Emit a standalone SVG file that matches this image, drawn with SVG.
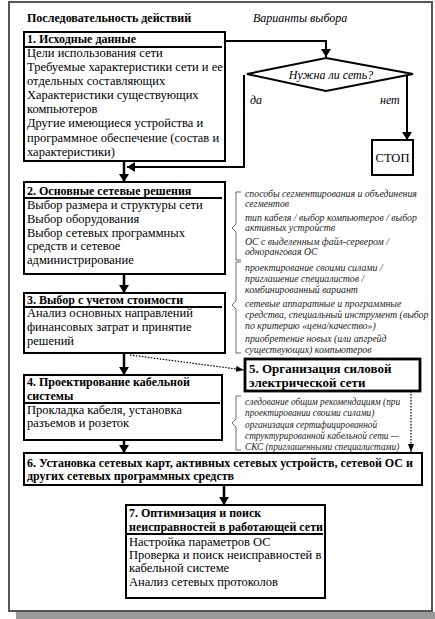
<svg xmlns="http://www.w3.org/2000/svg" width="435" height="619" viewBox="0 0 435 619" font-family="'Liberation Serif', 'DejaVu Serif', serif">
<defs>
<marker id="ah" markerWidth="8" markerHeight="10" refX="8" refY="5" orient="auto" markerUnits="userSpaceOnUse"><path d="M0,0 L8,5 L0,10 Z" fill="#000"/></marker>
<marker id="ahs" markerWidth="8" markerHeight="6" refX="8" refY="3" orient="auto" markerUnits="userSpaceOnUse"><path d="M0,0 L8,3 L0,6 Z" fill="#000"/></marker>
</defs>
<style>
text{font-family:'Liberation Serif','DejaVu Serif',serif;fill:#000}
.t{font-size:12.5px}
.h{font-size:12px;font-weight:bold}
.h5{font-size:13px;font-weight:bold}
.i{font-size:12px;font-style:italic}
.a{font-size:9.8px;font-style:italic;fill:#222}
.a4{font-size:9.3px}
.box{fill:#fff;stroke:#000;stroke-width:2}
.ul{stroke:#000;stroke-width:2}
.c{fill:none;stroke:#000;stroke-width:2.5}
.c2{fill:none;stroke:#000;stroke-width:2}
.d{fill:none;stroke:#000;stroke-width:1.2;stroke-dasharray:1.5 1.5}
.br{fill:none;stroke:#444;stroke-width:0.8}
</style>
<rect x="0" y="0" width="435" height="619" fill="#fff"/>
<rect x="16" y="612" width="419" height="7" fill="#9a9a9a"/>
<rect x="9" y="2" width="423" height="609" fill="#fff" stroke="#555" stroke-width="2"/>

<g id="titles">
<text class="h" x="27" y="22">Последовательность действий</text>
<text class="i" x="253" y="22">Варианты выбора</text>
</g>

<g id="connectors">
<path class="c2" d="M225,41 H326 V57" marker-end="url(#ah)"/>
<path class="c" d="M124,161 V182" marker-end="url(#ah)"/>
<path class="c2" d="M244,75 V167 H127" marker-end="url(#ah)"/>
<path class="c2" d="M407,75 V140" marker-end="url(#ah)"/>
<path class="c" d="M124,274 V293" marker-end="url(#ah)"/>
<path class="c" d="M124,353 V375" marker-end="url(#ah)"/>
<path class="d" d="M130,355 L244,370" marker-end="url(#ahs)"/>
<path class="d" d="M411,391 V452" marker-end="url(#ahs)"/>
<path class="c" d="M124,440 V453" marker-end="url(#ah)"/>
<path class="c" d="M224,485 V505" marker-end="url(#ah)"/>
</g>

<g id="n1">
<rect class="box" x="24" y="32" width="201" height="129"/>
<text class="h" x="27" y="43">1. Исходные данные</text>
<line class="ul" x1="25" y1="47" x2="222" y2="47"/>
<text class="t" x="27" y="57">Цели использования сети</text>
<text class="t" x="27" y="71">Требуемые характеристики сети и ее</text>
<text class="t" x="27" y="85">отдельных составляющих</text>
<text class="t" x="27" y="99">Характеристики существующих</text>
<text class="t" x="27" y="113">компьютеров</text>
<text class="t" x="27" y="127">Другие имеющиеся устройства и</text>
<text class="t" x="27" y="142">программное обеспечение (состав и</text>
<text class="t" x="27" y="156">характеристики)</text>
</g>

<g id="decision">
<polygon points="326,58 413,74 326,91 247,74" fill="#fff" stroke="#000" stroke-width="2"/>
<text class="i" x="331" y="79" text-anchor="middle" font-size="12.5">Нужна ли сеть?</text>
<text class="i" x="250" y="104">да</text>
<text class="i" x="380" y="104">нет</text>
</g>

<g id="stop">
<rect class="box" x="372" y="140" width="41" height="35"/>
<text class="t" x="392.5" y="162" text-anchor="middle">СТОП</text>
</g>

<g id="n2">
<rect class="box" x="24" y="182" width="201" height="92"/>
<text class="h" x="27" y="195">2. Основные сетевые решения</text>
<line class="ul" x1="25" y1="198" x2="222" y2="198"/>
<text class="t" x="27" y="209">Выбор размера и структуры сети</text>
<text class="t" x="27" y="223">Выбор оборудования</text>
<text class="t" x="27" y="237">Выбор сетевых программных</text>
<text class="t" x="27" y="250">средств и сетевое</text>
<text class="t" x="27" y="264">администрирование</text>
</g>

<g id="notes2">
<path class="br" d="M241,192 H236 V224 L232,228 L236,232 V260 H241"/>
<text class="a" x="245" y="197">способы сегментирования и объединения</text>
<text class="a" x="245" y="207">сегментов</text>
<text class="a" x="245" y="221">тип кабеля / выбор компьютеров / выбор</text>
<text class="a" x="245" y="231">активных устройств</text>
<text class="a" x="245" y="245">ОС с выделенным файл-сервером /</text>
<text class="a" x="245" y="255">одноранговая ОС</text>
</g>

<g id="n3">
<rect class="box" x="24" y="293" width="201" height="60"/>
<text class="h" x="27" y="304">3. Выбор с учетом стоимости</text>
<line class="ul" x1="25" y1="307" x2="222" y2="307"/>
<text class="t" x="27" y="317">Анализ основных направлений</text>
<text class="t" x="27" y="331">финансовых затрат и принятие</text>
<text class="t" x="27" y="345">решений</text>
</g>

<g id="notes3">
<path class="br" d="M241,262 H236 V301 L232,305 L236,309 V353 H241"/>
<text class="a" x="245" y="271">проектирование своими силами /</text>
<text class="a" x="245" y="282">приглашение специалистов /</text>
<text class="a" x="245" y="293">комбинированный вариант</text>
<text class="a" x="245" y="307">сетевые аппаратные и программные</text>
<text class="a" x="245" y="318">средства, специальный инструмент (выбор</text>
<text class="a" x="245" y="329">по критерию «цена/качество»)</text>
<text class="a" x="245" y="342">приобретение новых (или апгрейд</text>
<text class="a" x="245" y="353">существующих) компьютеров</text>
</g>

<g id="n5">
<rect x="245" y="359" width="175" height="32" fill="#fff" stroke="#000" stroke-width="2.8"/>
<text class="h5" x="249" y="373">5. Организация силовой</text>
<text class="h5" x="249" y="387">электрической сети</text>
</g>

<g id="n4">
<rect class="box" x="24" y="375" width="198" height="65"/>
<text class="h" x="27" y="386">4. Проектирование кабельной</text>
<text class="h" x="27" y="400">системы</text>
<line class="ul" x1="25" y1="403" x2="220" y2="403"/>
<text class="t" x="27" y="414">Прокладка кабеля, установка</text>
<text class="t" x="27" y="427">разъемов и розеток</text>
</g>

<g id="notes4">
<path class="br" d="M241,396 H236 V419 L232,423 L236,427 V450 H241"/>
<text class="a a4" x="245" y="405">следование общим рекомендациям (при</text>
<text class="a a4" x="245" y="416">проектировании своими силами)</text>
<text class="a a4" x="245" y="428">организация сертифицированной</text>
<text class="a a4" x="245" y="439">структурированной кабельной сети —</text>
<text class="a a4" x="245" y="450">СКС (приглашенными специалистами)</text>
</g>

<g id="n6">
<rect class="box" x="24" y="453" width="398" height="32"/>
<text class="h" x="27" y="467">6. Установка сетевых карт, активных сетевых устройств, сетевой ОС и</text>
<text class="h" x="27" y="480">других сетевых программных средств</text>
</g>

<g id="n7">
<rect class="box" x="126" y="505" width="199" height="93"/>
<text class="h" x="129" y="517">7. Оптимизация и поиск</text>
<text class="h" x="129" y="531">неисправностей в работающей сети</text>
<line class="ul" x1="127" y1="534" x2="323" y2="534"/>
<text class="t" x="129" y="546">Настройка параметров ОС</text>
<text class="t" x="129" y="559">Проверка и поиск неисправностей в</text>
<text class="t" x="129" y="572">кабельной системе</text>
<text class="t" x="129" y="586">Анализ сетевых протоколов</text>
</g>
</svg>
